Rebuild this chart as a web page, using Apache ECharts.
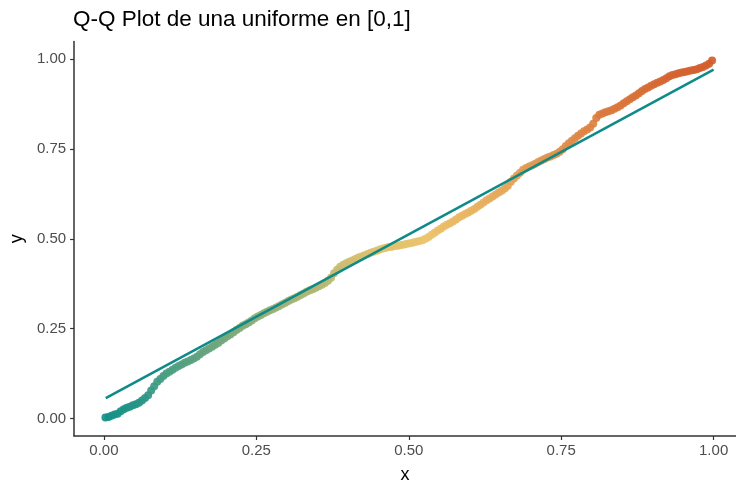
<!DOCTYPE html>
<html>
<head>
<meta charset="utf-8">
<script src="https://cdn.jsdelivr.net/npm/echarts@6/dist/echarts.min.js"></script>
<style>html,body{margin:0;padding:0;background:#fff}#c{width:736px;height:489px}</style>
</head>
<body>
<div id="c"></div>
<script>
// Theoretical quantiles (x) and sorted sample values (y)
const sampleX = [
0.0025,0.0075,0.0125,0.0175,0.0225,0.0275,0.0325,0.0375,0.0425,0.0475,
0.0525,0.0575,0.0625,0.0675,0.0725,0.0775,0.0825,0.0875,0.0925,0.0975,
0.1025,0.1075,0.1125,0.1175,0.1225,0.1275,0.1325,0.1375,0.1425,0.1475,
0.1525,0.1575,0.1625,0.1675,0.1725,0.1775,0.1825,0.1875,0.1925,0.1975,
0.2025,0.2075,0.2125,0.2175,0.2225,0.2275,0.2325,0.2375,0.2425,0.2475,
0.2525,0.2575,0.2625,0.2675,0.2725,0.2775,0.2825,0.2875,0.2925,0.2975,
0.3025,0.3075,0.3125,0.3175,0.3225,0.3275,0.3325,0.3375,0.3425,0.3475,
0.3525,0.3575,0.3625,0.3675,0.3725,0.3775,0.3825,0.3875,0.3925,0.3975,
0.4025,0.4075,0.4125,0.4175,0.4225,0.4275,0.4325,0.4375,0.4425,0.4475,
0.4525,0.4575,0.4625,0.4675,0.4725,0.4775,0.4825,0.4875,0.4925,0.4975,
0.5025,0.5075,0.5125,0.5175,0.5225,0.5275,0.5325,0.5375,0.5425,0.5475,
0.5525,0.5575,0.5625,0.5675,0.5725,0.5775,0.5825,0.5875,0.5925,0.5975,
0.6025,0.6075,0.6125,0.6175,0.6225,0.6275,0.6325,0.6375,0.6425,0.6475,
0.6525,0.6575,0.6625,0.6675,0.6725,0.6775,0.6825,0.6875,0.6925,0.6975,
0.7025,0.7075,0.7125,0.7175,0.7225,0.7275,0.7325,0.7375,0.7425,0.7475,
0.7525,0.7575,0.7625,0.7675,0.7725,0.7775,0.7825,0.7875,0.7925,0.7975,
0.8025,0.8075,0.8125,0.8175,0.8225,0.8275,0.8325,0.8375,0.8425,0.8475,
0.8525,0.8575,0.8625,0.8675,0.8725,0.8775,0.8825,0.8875,0.8925,0.8975,
0.9025,0.9075,0.9125,0.9175,0.9225,0.9275,0.9325,0.9375,0.9425,0.9475,
0.9525,0.9575,0.9625,0.9675,0.9725,0.9775,0.9825,0.9875,0.9925,0.9975];
const sampleY = [
0.003,0.004,0.008,0.011,0.013,0.020,0.026,0.030,0.033,0.037,
0.040,0.044,0.050,0.057,0.065,0.078,0.090,0.102,0.110,0.118,
0.125,0.130,0.136,0.141,0.146,0.150,0.155,0.159,0.163,0.167,
0.172,0.179,0.185,0.190,0.195,0.200,0.205,0.210,0.217,0.223,
0.229,0.234,0.240,0.246,0.252,0.258,0.262,0.267,0.273,0.279,
0.284,0.288,0.293,0.297,0.301,0.305,0.309,0.313,0.318,0.322,
0.327,0.331,0.335,0.339,0.344,0.348,0.353,0.357,0.360,0.364,
0.368,0.372,0.377,0.383,0.392,0.404,0.414,0.422,0.428,0.432,
0.436,0.440,0.444,0.448,0.451,0.454,0.458,0.461,0.464,0.467,
0.470,0.473,0.475,0.477,0.478,0.480,0.481,0.483,0.484,0.486,
0.488,0.490,0.492,0.494,0.496,0.500,0.505,0.511,0.517,0.523,
0.528,0.534,0.539,0.543,0.548,0.554,0.560,0.564,0.569,0.573,
0.578,0.583,0.589,0.595,0.601,0.607,0.612,0.618,0.623,0.629,
0.634,0.640,0.648,0.659,0.668,0.676,0.684,0.692,0.697,0.701,
0.705,0.709,0.714,0.718,0.722,0.726,0.729,0.733,0.737,0.742,
0.749,0.758,0.766,0.773,0.780,0.787,0.793,0.799,0.804,0.810,
0.820,0.836,0.845,0.849,0.852,0.855,0.858,0.862,0.866,0.871,
0.877,0.883,0.888,0.894,0.899,0.905,0.911,0.917,0.921,0.926,
0.930,0.934,0.938,0.942,0.947,0.952,0.956,0.958,0.961,0.963,
0.964,0.966,0.968,0.970,0.972,0.975,0.978,0.982,0.987,0.996];
// Reference line endpoints
const lineX = [0.003, 1.0];
const lineY = [0.057, 0.971];
const tickValues = [0, 0.25, 0.5, 0.75, 1];

const pts = sampleX.map((x, i) => [x, sampleY[i]]);
const linePts = lineX.map((x, i) => [x, lineY[i]]);

const chart = echarts.init(document.getElementById('c'), null, {renderer: 'canvas'});
const fam = '"Liberation Sans", Arial, sans-serif';
chart.setOption({
  animation: false,
  backgroundColor: '#fff',
  textStyle: {fontFamily: fam},
  title: {
    text: 'Q-Q Plot de una uniforme en [0,1]',
    left: 68, top: 3,
    textStyle: {fontFamily: fam, fontSize: 22.5, fontWeight: 'normal', color: '#000'}
  },
  grid: {left: 70, right: 0, top: 41.5, bottom: 50.7, containLabel: false},
  xAxis: {
    type: 'value', min: -0.0489, max: 1.0367,
    name: 'x', nameLocation: 'middle', nameGap: 30,
    nameTextStyle: {fontFamily: fam, fontSize: 18, color: '#000'},
    splitLine: {show: false},
    axisLine: {onZero: false, lineStyle: {color: '#333', width: 1.5}},
    axisTick: {show: true, length: 4, customValues: tickValues, lineStyle: {color: '#333', width: 1.2}},
    axisLabel: {customValues: tickValues, margin: 7, fontSize: 15, color: '#4d4d4d',
      formatter: v => v.toFixed(2)}
  },
  yAxis: {
    type: 'value', min: -0.0486, max: 1.049,
    name: 'y', nameLocation: 'middle', nameGap: 44, nameRotate: 90,
    nameTextStyle: {fontFamily: fam, fontSize: 18, color: '#000'},
    splitLine: {show: false},
    axisLine: {show: true, onZero: false, lineStyle: {color: '#333', width: 1.5}},
    axisTick: {show: true, length: 4, customValues: tickValues, lineStyle: {color: '#333', width: 1.2}},
    axisLabel: {customValues: tickValues, margin: 8, fontSize: 15, color: '#4d4d4d',
      formatter: v => v.toFixed(2)}
  },
  visualMap: {
    show: false, type: 'continuous', dimension: 1, min: 0, max: 1, seriesIndex: 0,
    inRange: {color: ['#139089', '#ebc46c', '#d35b2b']}
  },
  series: [
    {
      type: 'scatter', data: pts, symbolSize: 8,
      itemStyle: {opacity: 0.92}
    },
    {
      type: 'line', data: linePts, symbol: 'none',
      lineStyle: {color: '#0e8a88', width: 2.5}
    }
  ]
});
</script>
</body>
</html>
